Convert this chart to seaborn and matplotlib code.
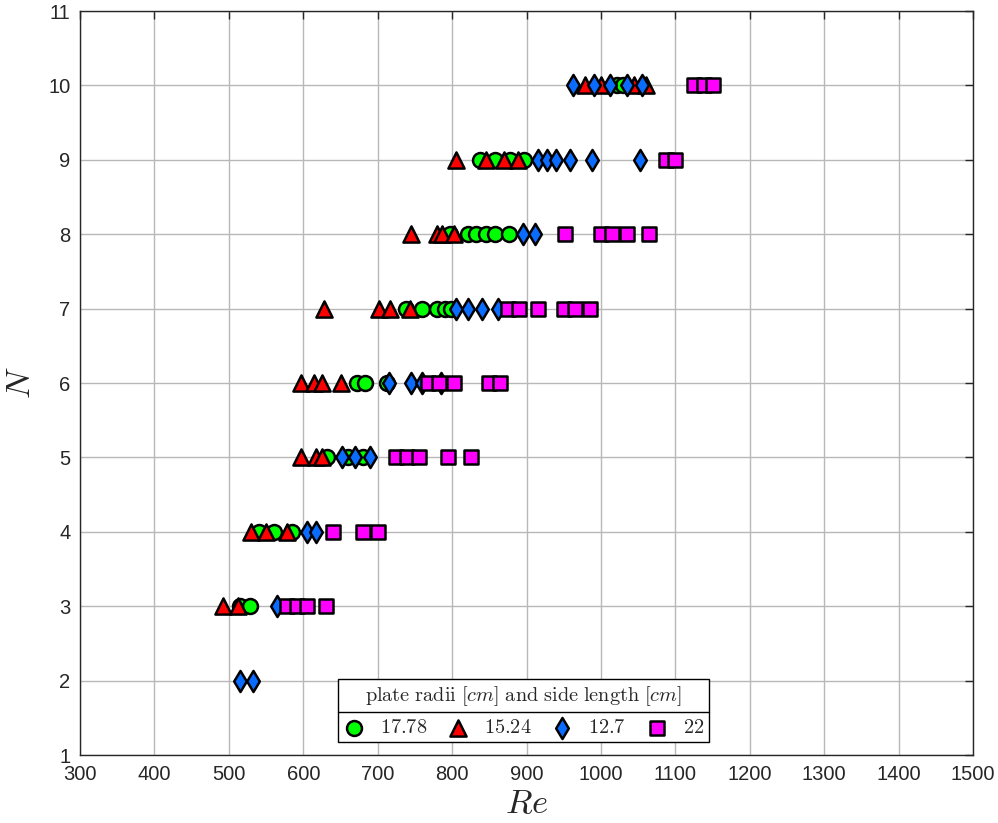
import numpy as np
import pandas as pd
import matplotlib
matplotlib.use("Agg")
import matplotlib.pyplot as plt
import seaborn as sns
from matplotlib.lines import Line2D

sns.set_style("white")
plt.rcParams['font.family'] = ['Liberation Sans', 'DejaVu Sans']
plt.rcParams['mathtext.fontset'] = 'cm'

# Re values read per plate size and mode number N
re_1778 = {10: [1022, 1030],
           9: [838, 858, 878, 897],
           8: [797, 822, 832, 845, 858, 877],
           7: [738, 760, 780, 790, 798],
           6: [672, 683, 712],
           5: [632, 660, 680],
           4: [540, 560, 585],
           3: [515, 528]}
re_1524 = {10: [978, 1000, 1045, 1060],
           9: [805, 845, 870, 888],
           8: [745, 780, 787, 803],
           7: [628, 702, 717, 743],
           6: [597, 615, 625, 650],
           5: [597, 617, 625],
           4: [530, 550, 578],
           3: [492, 512]}
re_127 = {10: [962, 990, 1012, 1035, 1055],
          9: [915, 928, 940, 958, 988, 1052],
          8: [895, 912],
          7: [805, 822, 840, 862],
          6: [715, 745, 760, 785],
          5: [652, 670, 690],
          4: [605, 617],
          3: [565],
          2: [515, 532]}
re_22 = {10: [1125, 1138, 1150],
         9: [1088, 1100],
         8: [952, 1000, 1015, 1035, 1065],
         7: [875, 890, 915, 950, 965, 985],
         6: [768, 782, 802, 850, 865],
         5: [725, 740, 755, 795, 825],
         4: [640, 680, 700],
         3: [578, 592, 605, 630]}

labels = ['17.78', '15.24', '12.7', '22']
series = [re_1778, re_1524, re_127, re_22]

rows = []
for lab, d in zip(labels, series):
    for n, vals in d.items():
        for v in vals:
            rows.append({'Re': v, 'N': n, 'plate': lab})
df = pd.DataFrame(rows)

palette = {'17.78': '#00ff00', '15.24': '#ff0000', '12.7': '#0a6cff', '22': '#ff00ff'}
markers = {'17.78': 'o', '15.24': '^', '12.7': 'd', '22': 's'}
sizes = {'17.78': 115, '15.24': 135, '12.7': 115, '22': 100}

fig = plt.figure(figsize=(9.98, 8.23), dpi=100)
ax = fig.add_axes([0.0802, 0.0826, 0.8948, 0.904])

for lab in labels:
    sub = df[df['plate'] == lab]
    sns.scatterplot(data=sub, x='Re', y='N', color=palette[lab], marker=markers[lab],
                    s=sizes[lab], edgecolor='black', linewidth=1.8, ax=ax, zorder=3,
                    label=r'$\mathrm{' + lab + '}$')

ax.set_xlim(300, 1500)
ax.set_ylim(1, 11)
ax.set_xticks(np.arange(300, 1501, 100))
ax.set_yticks(np.arange(1, 12, 1))
ax.grid(True, color='#b8b8b8', linewidth=1)
ax.set_axisbelow(True)
for sp in ax.spines.values():
    sp.set_color('#262626')
    sp.set_linewidth(1)
ax.tick_params(direction='in', length=6, width=1, color='#262626', labelsize=14.5,
               labelcolor='#262626', top=True, right=True, pad=7)
ax.set_xlabel(r'$Re$', fontsize=25, labelpad=2)
ax.set_ylabel(r'$N$', fontsize=25, labelpad=8)

leg = ax.legend(title=r'$\mathrm{plate\ radii}\ [cm]\ \mathrm{and\ side\ length}\ [cm]$',
                ncol=4, loc='lower center', bbox_to_anchor=(0.497, 0.0175),
                borderaxespad=0, fontsize=14.6, title_fontsize=14.6, fancybox=False,
                edgecolor='black', framealpha=1, handletextpad=0.8, columnspacing=1.0,
                borderpad=0.25, handlelength=1.0, markerscale=1.0)
leg.get_frame().set_linewidth(1)

# separator line between legend title and entries
fig.canvas.draw()
fb = leg.get_frame().get_window_extent()
tb = leg.get_title().get_window_extent()
inv = fig.transFigure.inverted()
ysep = tb.y0 - 4
(x0, y0) = inv.transform((fb.x0, ysep))
(x1, _) = inv.transform((fb.x1, ysep))
leg_line = Line2D([x0, x1], [y0, y0], transform=fig.transFigure, color='black', linewidth=1, zorder=10)
fig.add_artist(leg_line)

fig.savefig('out.png', dpi=100)
